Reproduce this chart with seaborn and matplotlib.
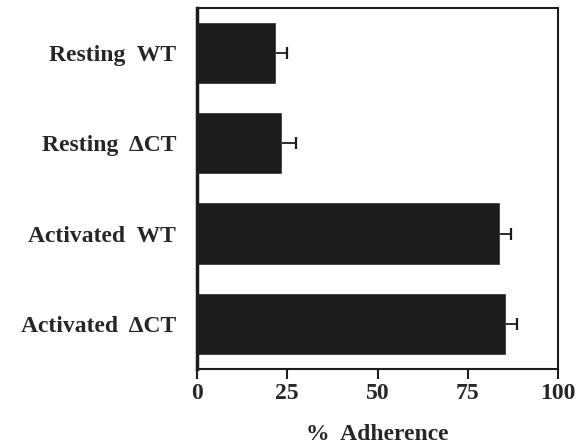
import numpy as np
import pandas as pd
import seaborn as sns
import matplotlib
matplotlib.use('Agg')
import matplotlib.pyplot as plt

# data
groups = ['Resting  WT', 'Resting  ΔCT', 'Activated  WT', 'Activated  ΔCT']
adherence = [22, 23.5, 84, 85.5]
sem = [3, 4, 3, 3]

df = pd.DataFrame({'group': groups, 'adherence': adherence})

sns.set_style('ticks')
plt.rcParams['font.family'] = ['Liberation Serif', 'DejaVu Serif']
plt.rcParams['font.weight'] = 'bold'

fig = plt.figure(figsize=(5.76, 4.47), dpi=100)
ax = fig.add_axes([0.342, 0.175, 0.627, 0.807])

sns.barplot(data=df, x='adherence', y='group', orient='h', color='#1c1c1c',
            saturation=1, width=0.69, ax=ax)
# one-sided error bars: hide the cap at the bar end
eb = ax.errorbar(adherence, np.arange(len(groups)), xerr=[np.zeros(len(sem)), sem],
                 fmt='none', ecolor='#1c1c1c', elinewidth=1.3, capsize=4.5, capthick=1.6)
eb[1][0].set_visible(False)

ax.set_xlim(0, 100)
ax.set_ylim(3.5, -0.5)
ax.set_xticks([0, 25, 50, 75, 100])
ax.set_xlabel('%  Adherence', fontsize=17, fontweight='bold', labelpad=15)
ax.set_ylabel('')
ax.tick_params(axis='x', length=7, width=1.5, labelsize=17, pad=3, color='#1c1c1c')
ax.tick_params(axis='y', length=0, labelsize=17, pad=15)
for lab in ax.get_xticklabels() + ax.get_yticklabels():
    lab.set_fontweight('bold')
for side in ['top', 'right', 'bottom', 'left']:
    ax.spines[side].set_visible(True)
    ax.spines[side].set_linewidth(1.5)
    ax.spines[side].set_color('#1c1c1c')
ax.spines['left'].set_linewidth(2.5)

fig.savefig('out.png', dpi=100)
